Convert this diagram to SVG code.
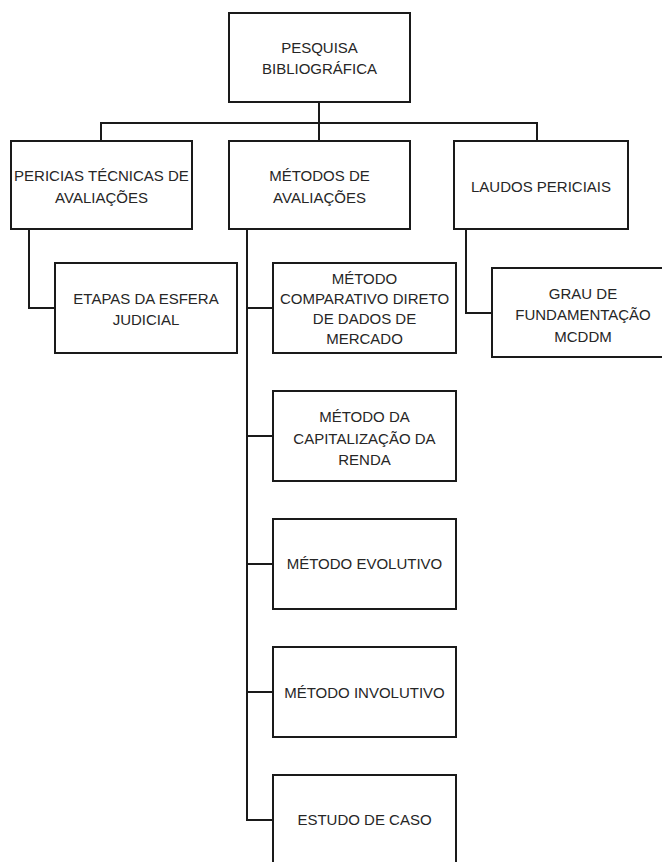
<svg xmlns="http://www.w3.org/2000/svg" width="662" height="862" viewBox="0 0 662 862">
<style>
.box{fill:#fff;stroke:#1a1a1a;stroke-width:2}
.con{fill:none;stroke:#1a1a1a;stroke-width:2}
text{font-family:"Liberation Sans",Arial,sans-serif;font-size:15px;fill:#262626;text-anchor:middle}
</style>
<rect width="662" height="862" fill="#fff"/>
<g id="connectors">
<path class="con" d="M319 102V123M101 141V123H537V141M319 123V141"/>
<path class="con" d="M29 229V308H55"/>
<path class="con" d="M247 229V820H273M247 308H273M247 436H273M247 564H273M247 692H273"/>
<path class="con" d="M466 229V313H492"/>
</g>
<g id="n_pesquisa"><rect class="box" x="229" y="13" width="181" height="89"/><text x="319.5" y="52.5">PESQUISA</text><text x="319.5" y="73.5">BIBLIOGRÁFICA</text></g>
<g id="n_pericias"><rect class="box" x="11" y="141" width="181" height="88"/><text x="101.5" y="180.5">PERICIAS TÉCNICAS DE</text><text x="101.5" y="202.5">AVALIAÇÕES</text></g>
<g id="n_metodos"><rect class="box" x="229" y="141" width="181" height="88"/><text x="319.5" y="180.5">MÉTODOS DE</text><text x="319.5" y="202.5">AVALIAÇÕES</text></g>
<g id="n_laudos"><rect class="box" x="454" y="141" width="174" height="88"/><text x="541" y="191.5">LAUDOS PERICIAIS</text></g>
<g id="n_etapas"><rect class="box" x="55" y="263" width="182" height="90"/><text x="146" y="303.5">ETAPAS DA ESFERA</text><text x="146" y="324.5">JUDICIAL</text></g>
<g id="n_comparativo"><rect class="box" x="273" y="263" width="183" height="90"/><text x="364.5" y="283.5">MÉTODO</text><text x="364.5" y="303.5">COMPARATIVO DIRETO</text><text x="364.5" y="323.5">DE DADOS DE</text><text x="364.5" y="343.5">MERCADO</text></g>
<g id="n_capitalizacao"><rect class="box" x="273" y="391" width="183" height="90"/><text x="364.5" y="422">MÉTODO DA</text><text x="364.5" y="443.5">CAPITALIZAÇÃO DA</text><text x="364.5" y="465">RENDA</text></g>
<g id="n_evolutivo"><rect class="box" x="273" y="519" width="183" height="90"/><text x="364.5" y="568.5">MÉTODO EVOLUTIVO</text></g>
<g id="n_involutivo"><rect class="box" x="273" y="647" width="183" height="90"/><text x="364.5" y="697.5">MÉTODO INVOLUTIVO</text></g>
<g id="n_estudo"><rect class="box" x="273" y="775" width="183" height="92"/><text x="364.5" y="824.5">ESTUDO DE CASO</text></g>
<g id="n_grau"><rect class="box" x="492" y="268" width="182" height="89"/><text x="583" y="298.5">GRAU DE</text><text x="583" y="319.5">FUNDAMENTAÇÃO</text><text x="583" y="341.5">MCDDM</text></g>
</svg>
